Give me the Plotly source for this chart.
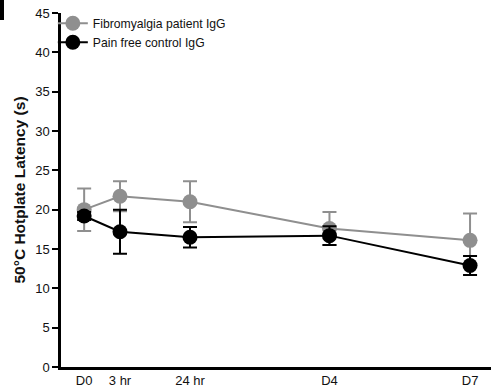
import plotly.graph_objects as go

time_labels = ["D0", "3 hr", "24 hr", "D4", "D7"]
x_pos = [0, 0.65, 1.92, 4.45, 7]

fibro_mean = [20.0, 21.7, 21.0, 17.6, 16.1]
fibro_err = [2.7, 1.9, 2.6, 2.1, 3.4]

ctrl_mean = [19.2, 17.2, 16.5, 16.7, 12.9]
ctrl_err = [0.5, 2.8, 1.3, 1.2, 1.2]

y_ticks = [0, 5, 10, 15, 20, 25, 30, 35, 40, 45]

gray = "#8f8f8f"
black = "#000000"

fig = go.Figure()
fig.add_trace(go.Scatter(
    x=x_pos, y=fibro_mean, name="Fibromyalgia patient IgG",
    mode="lines+markers",
    line=dict(color=gray, width=2),
    marker=dict(color=gray, size=15),
    error_y=dict(type="data", array=fibro_err, color=gray, thickness=2, width=7),
))
fig.add_trace(go.Scatter(
    x=x_pos, y=ctrl_mean, name="Pain free control IgG",
    mode="lines+markers",
    line=dict(color=black, width=2),
    marker=dict(color=black, size=15),
    error_y=dict(type="data", array=ctrl_err, color=black, thickness=2, width=7),
))

fig.update_layout(
    width=491, height=392,
    margin=dict(l=61, r=0, t=13, b=25),
    plot_bgcolor="white", paper_bgcolor="white",
    font=dict(family="Liberation Sans, Arial, sans-serif", size=13, color="#111"),
    showlegend=True,
    legend=dict(x=-0.019, y=1.012, xanchor="left", yanchor="top",
                bgcolor="rgba(0,0,0,0)", font=dict(size=12.2),
                itemwidth=30, tracegroupgap=0),
    xaxis=dict(range=[-0.42, 7.38], tickvals=x_pos, ticktext=time_labels,
               showline=True, linecolor="black", linewidth=2.5,
               showgrid=False, zeroline=False, ticks="", ticklen=0,
               tickfont=dict(size=13)),
    yaxis=dict(range=[0, 45], tickvals=y_ticks,
               showline=True, linecolor="black", linewidth=2.5,
               showgrid=False, zeroline=False, ticks="outside", ticklen=6,
               tickwidth=2, tickcolor="black", tickfont=dict(size=13),
               title=dict(text="<b>50°C Hotplate Latency (s)</b>", font=dict(size=15.5), standoff=6)),
)
fig.add_shape(type="rect", xref="paper", yref="paper", x0=-61/430, x1=-57/430,
              y0=1 + 13/354, y1=1 + (13-20)/354, fillcolor="black", line=dict(width=0))

fig.write_html("out.html", config={"displayModeBar": False},
               post_script="document.body.style.margin='0px';")
